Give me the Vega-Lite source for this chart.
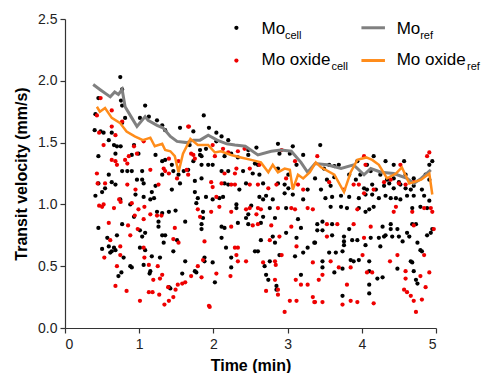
{
"$schema": "https://vega.github.io/schema/vega-lite/v6.json",
"width": 371, "height": 309,
"autosize": "none",
"padding": {"left": 65, "top": 19, "right": 47, "bottom": 45},
"config": {"view": {"stroke": null}, "font": "Liberation Sans",
 "axis": {"grid": false, "domainColor": "#333", "tickColor": "#333", "domainWidth": 1.2, "tickWidth": 1.2, "tickSize": 5, "labelColor": "#222", "labelFont": "Liberation Sans", "labelFontSize": 14, "titleFont": "Liberation Sans", "titleFontSize": 16, "titleFontWeight": "bold", "titleColor": "#000"}},
"datasets": {
"mo": [
{"t":0.745,"v":2.03},{"t":0.45,"v":1.86},{"t":0.77,"v":1.93},{"t":1.08,"v":1.80},{"t":0.755,"v":1.84},{"t":0.77,"v":1.80},{"t":0.41,"v":1.73},{"t":0.81,"v":1.70},{"t":0.77,"v":1.66},{"t":1.01,"v":1.70},{"t":1.13,"v":1.71},{"t":1.24,"v":1.68},{"t":1.31,"v":1.64},{"t":1.35,"v":1.60},{"t":1.55,"v":1.62},{"t":0.40,"v":1.60},{"t":0.48,"v":1.59},{"t":0.52,"v":1.58},{"t":0.63,"v":1.58},{"t":0.59,"v":1.52},{"t":0.66,"v":1.48},{"t":0.70,"v":1.47},{"t":0.75,"v":1.47},{"t":0.68,"v":1.41},{"t":0.45,"v":1.39},{"t":0.93,"v":1.48},{"t":0.99,"v":1.41},{"t":0.90,"v":1.40},{"t":1.22,"v":1.40},{"t":1.31,"v":1.35},{"t":1.35,"v":1.36},{"t":1.44,"v":1.32},{"t":0.77,"v":1.27},{"t":0.84,"v":1.27},{"t":0.90,"v":1.27},{"t":1.04,"v":1.27},{"t":1.31,"v":1.24},{"t":1.46,"v":1.27},{"t":1.53,"v":1.24},{"t":1.60,"v":1.27},{"t":0.59,"v":1.24},{"t":0.63,"v":1.18},{"t":0.68,"v":1.16},{"t":0.54,"v":1.13},{"t":1.04,"v":1.20},{"t":1.06,"v":1.17},{"t":1.22,"v":1.15},{"t":1.17,"v":1.10},{"t":1.44,"v":1.12},{"t":1.55,"v":1.17},{"t":0.97,"v":1.20},{"t":0.45,"v":1.17},{"t":0.50,"v":1.10},
{"t":0.41,"v":1.07},{"t":0.745,"v":1.04},{"t":0.95,"v":1.08},{"t":1.06,"v":1.06},{"t":1.15,"v":1.04},{"t":1.20,"v":1.05},{"t":0.88,"v":1.00},{"t":0.93,"v":0.90},{"t":1.24,"v":0.94},{"t":1.31,"v":0.93},{"t":1.40,"v":0.94},{"t":1.49,"v":0.95},{"t":1.26,"v":0.86},{"t":1.26,"v":0.82},{"t":1.62,"v":0.86},{"t":0.45,"v":0.81},{"t":0.77,"v":0.84},{"t":1.01,"v":0.79},{"t":1.08,"v":0.77},{"t":1.04,"v":0.74},{"t":1.31,"v":0.75},{"t":1.35,"v":0.75},{"t":0.70,"v":0.75},{"t":0.57,"v":0.73},{"t":1.51,"v":0.71},{"t":1.33,"v":0.69},{"t":0.59,"v":0.66},{"t":0.66,"v":0.65},{"t":0.50,"v":0.64},{"t":0.63,"v":0.62},{"t":0.68,"v":0.63},{"t":0.61,"v":0.61},{"t":0.79,"v":0.57},{"t":1.01,"v":0.65},{"t":1.08,"v":0.63},{"t":1.17,"v":0.58},{"t":1.28,"v":0.57},{"t":1.46,"v":0.62},{"t":1.62,"v":0.54},{"t":0.88,"v":0.50},{"t":0.90,"v":0.49},{"t":1.06,"v":0.51},{"t":1.15,"v":0.46},{"t":1.14,"v":0.44},{"t":0.76,"v":0.45},{"t":0.72,"v":0.42},{"t":1.58,"v":0.44},{"t":1.42,"v":0.32},{"t":1.40,"v":0.33},
{"t":1.87,"v":1.72},{"t":1.94,"v":1.62},{"t":1.73,"v":1.59},{"t":2.04,"v":1.58},{"t":2.11,"v":1.55},{"t":2.20,"v":1.52},{"t":2.04,"v":1.51},{"t":2.87,"v":1.49},{"t":3.07,"v":1.47},{"t":3.21,"v":1.40},{"t":2.58,"v":1.46},{"t":2.47,"v":1.44},{"t":1.68,"v":1.48},{"t":1.82,"v":1.44},{"t":1.90,"v":1.45},{"t":1.73,"v":1.35},{"t":1.82,"v":1.40},{"t":1.84,"v":1.39},{"t":2.15,"v":1.39},{"t":2.24,"v":1.41},{"t":2.33,"v":1.38},{"t":2.47,"v":1.40},{"t":2.56,"v":1.33},{"t":2.60,"v":1.32},{"t":2.89,"v":1.41},{"t":3.03,"v":1.41},{"t":3.12,"v":1.32},{"t":3.01,"v":1.24},{"t":2.87,"v":1.29},{"t":1.84,"v":1.32},{"t":1.93,"v":1.32},{"t":1.99,"v":1.32},{"t":2.11,"v":1.27},{"t":2.20,"v":1.27},{"t":2.40,"v":1.27},{"t":2.53,"v":1.25},{"t":2.62,"v":1.24},{"t":1.66,"v":1.28},{"t":1.75,"v":1.19},{"t":1.84,"v":1.21},{"t":2.15,"v":1.17},{"t":2.20,"v":1.16},{"t":2.44,"v":1.17},{"t":2.67,"v":1.17},{"t":2.87,"v":1.17},{"t":2.96,"v":1.16},{"t":3.01,"v":1.13},{"t":3.27,"v":1.12},{"t":2.35,"v":1.12},{"t":1.75,"v":1.10},
{"t":1.79,"v":1.05},{"t":1.77,"v":1.01},{"t":1.90,"v":1.06},{"t":2.08,"v":1.05},{"t":2.13,"v":1.06},{"t":1.99,"v":1.04},{"t":1.86,"v":0.94},{"t":1.86,"v":0.89},{"t":1.84,"v":0.84},{"t":1.84,"v":0.80},{"t":2.11,"v":0.82},{"t":2.15,"v":0.81},{"t":2.11,"v":0.73},{"t":2.31,"v":1.00},{"t":2.31,"v":0.97},{"t":2.44,"v":0.89},{"t":2.47,"v":0.92},{"t":2.33,"v":0.85},{"t":2.51,"v":0.99},{"t":2.62,"v":1.06},{"t":2.67,"v":1.04},{"t":2.71,"v":1.07},{"t":2.80,"v":1.04},{"t":2.76,"v":0.97},{"t":2.83,"v":0.89},{"t":2.67,"v":0.90},{"t":2.64,"v":0.85},{"t":2.47,"v":0.84},{"t":2.96,"v":1.09},{"t":3.07,"v":1.08},{"t":3.21,"v":1.04},{"t":2.98,"v":0.97},{"t":3.14,"v":0.88},{"t":3.18,"v":0.81},{"t":3.12,"v":0.73},{"t":2.98,"v":0.77},{"t":2.80,"v":0.74},{"t":2.83,"v":0.69},{"t":2.64,"v":0.71},{"t":3.36,"v":0.69},{"t":3.27,"v":0.65},{"t":3.21,"v":0.61},{"t":3.10,"v":0.58},{"t":2.89,"v":0.59},{"t":2.56,"v":0.62},{"t":2.60,"v":0.62},{"t":2.17,"v":0.65},{"t":2.24,"v":0.57},{"t":1.88,"v":0.57},{"t":1.88,"v":0.54},{"t":1.99,"v":0.53},{"t":2.76,"v":0.54},{"t":2.69,"v":0.50},{"t":2.71,"v":0.43},{"t":2.74,"v":0.39},{"t":2.85,"v":0.34},{"t":2.85,"v":0.31},{"t":1.75,"v":0.46},{"t":1.77,"v":0.45},{"t":2.02,"v":0.37},{"t":3.18,"v":0.43},{"t":2.24,"v":0.49},
{"t":3.44,"v":1.48},{"t":4.16,"v":1.39},{"t":4.32,"v":1.35},{"t":4.43,"v":1.32},{"t":4.57,"v":1.35},{"t":4.91,"v":1.32},{"t":4.95,"v":1.35},{"t":3.49,"v":1.29},{"t":3.56,"v":1.32},{"t":3.63,"v":1.31},{"t":3.69,"v":1.32},{"t":3.94,"v":1.35},{"t":4.07,"v":1.32},{"t":4.12,"v":1.27},{"t":3.83,"v":1.24},{"t":3.37,"v":1.21},{"t":3.53,"v":1.20},{"t":3.63,"v":1.22},{"t":3.98,"v":1.24},{"t":3.92,"v":1.20},{"t":4.25,"v":1.24},{"t":4.34,"v":1.20},{"t":4.43,"v":1.21},{"t":4.50,"v":1.18},{"t":4.59,"v":1.24},{"t":4.70,"v":1.21},{"t":4.86,"v":1.24},{"t":4.91,"v":1.20},{"t":3.45,"v":1.12},{"t":3.58,"v":1.15},{"t":4.03,"v":1.13},{"t":4.07,"v":1.12},{"t":4.14,"v":1.16},{"t":4.19,"v":1.12},{"t":4.30,"v":1.15},{"t":4.37,"v":1.17},{"t":4.43,"v":1.13},{"t":4.52,"v":1.16},{"t":4.59,"v":1.13},{"t":4.66,"v":1.12},{"t":4.70,"v":1.15},{"t":4.81,"v":1.12},
{"t":3.51,"v":1.05},{"t":3.60,"v":1.06},{"t":3.72,"v":1.07},{"t":3.83,"v":1.06},{"t":3.96,"v":1.05},{"t":4.05,"v":1.08},{"t":4.14,"v":1.08},{"t":4.23,"v":1.05},{"t":4.32,"v":1.07},{"t":4.39,"v":1.05},{"t":4.46,"v":1.05},{"t":4.52,"v":1.04},{"t":4.61,"v":1.07},{"t":4.70,"v":1.07},{"t":4.84,"v":1.07},{"t":4.91,"v":1.03},{"t":3.58,"v":0.98},{"t":3.72,"v":0.98},{"t":3.80,"v":0.97},{"t":3.96,"v":0.97},{"t":4.05,"v":0.94},{"t":4.10,"v":0.96},{"t":4.16,"v":0.98},{"t":4.68,"v":0.97},{"t":4.79,"v":0.98},{"t":4.88,"v":0.97},{"t":4.68,"v":0.84},{"t":4.73,"v":0.84},{"t":3.40,"v":0.84},{"t":3.47,"v":0.86},{"t":3.60,"v":0.84},{"t":3.83,"v":0.80},{"t":3.40,"v":0.79},{"t":3.47,"v":0.79},{"t":4.28,"v":0.82},{"t":4.39,"v":0.84},{"t":4.39,"v":0.80},{"t":4.48,"v":0.80},{"t":3.60,"v":0.75},{"t":3.76,"v":0.74},{"t":3.76,"v":0.70},{"t":3.76,"v":0.67},{"t":3.87,"v":0.71},{"t":3.94,"v":0.71},{"t":4.05,"v":0.67},{"t":4.12,"v":0.73},{"t":4.23,"v":0.73},{"t":4.30,"v":0.74},{"t":4.32,"v":0.75},{"t":4.41,"v":0.74},{"t":4.50,"v":0.74},{"t":4.55,"v":0.70},{"t":4.61,"v":0.77},{"t":4.64,"v":0.74},{"t":4.75,"v":0.69},{"t":4.79,"v":0.63},{"t":4.81,"v":0.62},{"t":4.88,"v":0.75},{"t":4.93,"v":0.77},{"t":4.95,"v":0.80},{"t":3.37,"v":0.69},{"t":4.25,"v":0.66},{"t":3.56,"v":0.61},{"t":3.65,"v":0.61},{"t":3.74,"v":0.62},{"t":3.85,"v":0.55},{"t":3.89,"v":0.54},{"t":3.96,"v":0.55},{"t":4.10,"v":0.54},{"t":3.47,"v":0.54},{"t":3.47,"v":0.49},{"t":3.74,"v":0.48},{"t":3.63,"v":0.45},{"t":4.10,"v":0.46},{"t":4.66,"v":0.54},{"t":4.68,"v":0.53},{"t":4.48,"v":0.48},{"t":4.70,"v":0.46},{"t":4.73,"v":0.39},{"t":4.75,"v":0.36},{"t":4.21,"v":0.40},{"t":4.28,"v":0.41},{"t":4.10,"v":0.35},{"t":4.10,"v":0.28},{"t":3.74,"v":0.26}
],
"mox": [
{"t":0.48,"v":1.86},{"t":0.63,"v":1.76},{"t":0.43,"v":1.72},{"t":0.77,"v":1.67},{"t":0.63,"v":1.63},{"t":0.46,"v":1.58},{"t":1.67,"v":1.63},{"t":0.68,"v":1.56},{"t":0.52,"v":1.48},{"t":0.93,"v":1.47},{"t":1.06,"v":1.51},{"t":0.97,"v":1.41},{"t":0.86,"v":1.39},{"t":0.63,"v":1.36},{"t":0.68,"v":1.35},{"t":0.81,"v":1.36},{"t":0.84,"v":1.33},{"t":1.40,"v":1.37},{"t":1.53,"v":1.35},{"t":0.70,"v":1.32},{"t":0.43,"v":1.25},{"t":1.15,"v":1.28},{"t":1.33,"v":1.29},{"t":1.35,"v":1.27},{"t":1.40,"v":1.25},{"t":1.64,"v":1.28},{"t":0.54,"v":1.17},{"t":0.84,"v":1.16},{"t":1.26,"v":1.16},{"t":1.51,"v":1.21},{"t":0.95,"v":1.12},{"t":0.44,"v":1.17},
{"t":0.50,"v":0.98},{"t":0.52,"v":1.00},{"t":0.73,"v":1.04},{"t":0.75,"v":1.02},{"t":0.66,"v":0.97},{"t":0.90,"v":1.01},{"t":0.99,"v":0.96},{"t":1.07,"v":0.98},{"t":0.94,"v":0.91},{"t":1.06,"v":0.88},{"t":1.15,"v":0.92},{"t":1.24,"v":0.91},{"t":1.30,"v":0.91},{"t":0.59,"v":0.85},{"t":0.85,"v":0.83},{"t":0.98,"v":0.80},{"t":1.48,"v":0.81},{"t":0.88,"v":0.75},{"t":0.61,"v":0.71},{"t":1.46,"v":0.72},{"t":1.53,"v":0.69},{"t":0.745,"v":0.66},{"t":1.06,"v":0.65},{"t":0.53,"v":0.57},{"t":0.745,"v":0.59},{"t":1.07,"v":0.57},{"t":0.70,"v":0.50},{"t":1.13,"v":0.51},{"t":1.25,"v":0.50},{"t":1.31,"v":0.43},{"t":1.19,"v":0.39},{"t":1.28,"v":0.40},{"t":0.68,"v":0.34},{"t":0.83,"v":0.30},{"t":1.13,"v":0.29},{"t":1.18,"v":0.29},{"t":1.27,"v":0.27},{"t":1.39,"v":0.33},{"t":1.49,"v":0.31},{"t":1.52,"v":0.35},{"t":1.58,"v":0.36},{"t":1.62,"v":0.37},{"t":1.46,"v":0.25},{"t":1.40,"v":0.22},{"t":1.34,"v":0.19},{"t":1.01,"v":0.22},{"t":0.46,"v":0.99},
{"t":1.66,"v":1.63},{"t":1.70,"v":1.41},{"t":1.73,"v":1.40},{"t":1.99,"v":1.48},{"t":2.13,"v":1.45},{"t":2.42,"v":1.45},{"t":2.33,"v":1.43},{"t":2.92,"v":1.44},{"t":3.10,"v":1.35},{"t":1.75,"v":1.37},{"t":2.02,"v":1.39},{"t":2.20,"v":1.42},{"t":2.31,"v":1.29},{"t":2.29,"v":1.25},{"t":2.49,"v":1.29},{"t":2.62,"v":1.32},{"t":2.98,"v":1.21},{"t":1.66,"v":1.24},{"t":2.15,"v":1.25},{"t":1.97,"v":1.18},{"t":1.99,"v":1.14},{"t":2.11,"v":1.17},{"t":2.24,"v":1.16},{"t":2.29,"v":1.16},{"t":2.49,"v":1.16},{"t":2.60,"v":1.16},{"t":2.74,"v":1.13},{"t":2.85,"v":1.16},{"t":3.14,"v":1.16},{"t":3.21,"v":1.12},
{"t":2.04,"v":1.06},{"t":2.08,"v":0.98},{"t":1.97,"v":0.94},{"t":1.79,"v":0.96},{"t":1.82,"v":0.90},{"t":2.24,"v":0.94},{"t":2.44,"v":0.96},{"t":2.49,"v":0.97},{"t":2.60,"v":0.97},{"t":2.64,"v":0.96},{"t":2.87,"v":0.97},{"t":3.05,"v":0.97},{"t":3.10,"v":0.96},{"t":3.27,"v":0.97},{"t":3.34,"v":0.96},{"t":2.58,"v":0.92},{"t":2.60,"v":0.84},{"t":2.53,"v":0.83},{"t":2.24,"v":0.82},{"t":2.78,"v":0.83},{"t":3.05,"v":0.82},{"t":2.89,"v":0.74},{"t":2.76,"v":0.71},{"t":1.88,"v":0.70},{"t":3.12,"v":0.66},{"t":2.29,"v":0.65},{"t":2.33,"v":0.65},{"t":2.92,"v":0.59},{"t":2.31,"v":0.59},{"t":2.33,"v":0.54},{"t":2.44,"v":0.54},{"t":2.67,"v":0.53},{"t":2.83,"v":0.54},{"t":2.84,"v":0.51},{"t":3.34,"v":0.53},{"t":1.86,"v":0.55},{"t":1.79,"v":0.50},{"t":1.70,"v":0.42},{"t":1.84,"v":0.41},{"t":2.04,"v":0.44},{"t":2.23,"v":0.42},{"t":2.83,"v":0.39},{"t":2.87,"v":0.31},{"t":2.87,"v":0.27},{"t":2.71,"v":0.30},{"t":3.11,"v":0.39},{"t":3.18,"v":0.35},{"t":3.27,"v":0.35},{"t":3.03,"v":0.22},{"t":3.12,"v":0.22},{"t":3.34,"v":0.25},{"t":3.36,"v":0.21},{"t":2.96,"v":0.13},{"t":1.94,"v":0.18},{"t":1.95,"v":0.17},
{"t":3.40,"v":1.39},{"t":4.03,"v":1.39},{"t":4.05,"v":1.32},{"t":4.52,"v":1.32},{"t":4.91,"v":1.42},{"t":4.88,"v":1.39},{"t":3.89,"v":1.16},{"t":3.96,"v":1.16},{"t":3.76,"v":1.12},{"t":3.56,"v":1.18},{"t":4.30,"v":1.18},{"t":4.39,"v":1.20},{"t":4.50,"v":1.17},{"t":4.59,"v":1.16},{"t":4.70,"v":1.18},{"t":4.16,"v":1.12},
{"t":4.03,"v":1.09},{"t":3.94,"v":0.96},{"t":4.46,"v":0.98},{"t":4.43,"v":0.94},{"t":4.68,"v":0.94},{"t":4.84,"v":0.97},{"t":4.93,"v":0.97},{"t":4.95,"v":0.94},{"t":3.53,"v":0.84},{"t":3.67,"v":0.84},{"t":3.89,"v":0.84},{"t":4.12,"v":0.82},{"t":4.70,"v":0.83},{"t":4.97,"v":0.80},{"t":3.53,"v":0.74},{"t":4.03,"v":0.73},{"t":4.01,"v":0.59},{"t":4.48,"v":0.59},{"t":4.84,"v":0.59},{"t":3.58,"v":0.54},{"t":4.38,"v":0.54},{"t":3.69,"v":0.49},{"t":3.85,"v":0.49},{"t":4.07,"v":0.45},{"t":4.14,"v":0.45},{"t":4.59,"v":0.46},{"t":4.79,"v":0.42},{"t":4.91,"v":0.45},{"t":3.47,"v":0.43},{"t":3.42,"v":0.39},{"t":4.59,"v":0.40},{"t":4.86,"v":0.33},{"t":4.57,"v":0.31},{"t":4.61,"v":0.29},{"t":4.66,"v":0.26},{"t":4.81,"v":0.23},{"t":4.70,"v":0.22},{"t":4.73,"v":0.13},{"t":3.80,"v":0.35},{"t":3.85,"v":0.22},{"t":3.74,"v":0.19},{"t":3.94,"v":0.21},{"t":4.16,"v":0.20},{"t":3.37,"v":0.21},{"t":3.47,"v":0.21}
],
"moref": [
{"t":0.38,"v":1.97},{"t":0.47,"v":1.93},{"t":0.61,"v":1.87},{"t":0.67,"v":1.91},{"t":0.72,"v":1.89},{"t":0.77,"v":1.93},{"t":0.81,"v":1.79},{"t":0.90,"v":1.70},{"t":0.97,"v":1.63},{"t":1.08,"v":1.71},{"t":1.12,"v":1.68},{"t":1.24,"v":1.64},{"t":1.32,"v":1.62},{"t":1.42,"v":1.55},{"t":1.51,"v":1.51},{"t":1.64,"v":1.50},{"t":1.73,"v":1.52},{"t":1.82,"v":1.52},{"t":1.93,"v":1.56},{"t":2.05,"v":1.52},{"t":2.18,"v":1.49},{"t":2.29,"v":1.48},{"t":2.43,"v":1.47},{"t":2.60,"v":1.40},{"t":2.78,"v":1.43},{"t":2.91,"v":1.44},{"t":3.05,"v":1.43},{"t":3.18,"v":1.34},{"t":3.27,"v":1.26},{"t":3.37,"v":1.33},{"t":3.53,"v":1.32},{"t":3.72,"v":1.29},{"t":3.89,"v":1.32},{"t":4.03,"v":1.24},{"t":4.12,"v":1.29},{"t":4.26,"v":1.26},{"t":4.43,"v":1.25},{"t":4.61,"v":1.21},{"t":4.70,"v":1.17},{"t":4.80,"v":1.21},{"t":4.93,"v":1.28}
],
"moxref": [
{"t":0.43,"v":1.79},{"t":0.47,"v":1.75},{"t":0.54,"v":1.78},{"t":0.63,"v":1.70},{"t":0.74,"v":1.66},{"t":0.83,"v":1.59},{"t":0.94,"v":1.55},{"t":1.05,"v":1.52},{"t":1.15,"v":1.54},{"t":1.21,"v":1.47},{"t":1.31,"v":1.49},{"t":1.35,"v":1.44},{"t":1.42,"v":1.43},{"t":1.48,"v":1.39},{"t":1.53,"v":1.26},{"t":1.59,"v":1.41},{"t":1.69,"v":1.53},{"t":1.79,"v":1.48},{"t":1.93,"v":1.48},{"t":2.02,"v":1.42},{"t":2.10,"v":1.43},{"t":2.24,"v":1.40},{"t":2.37,"v":1.38},{"t":2.51,"v":1.36},{"t":2.64,"v":1.34},{"t":2.74,"v":1.26},{"t":2.80,"v":1.32},{"t":2.87,"v":1.26},{"t":2.96,"v":1.29},{"t":3.03,"v":1.28},{"t":3.07,"v":1.12},{"t":3.14,"v":1.24},{"t":3.21,"v":1.21},{"t":3.30,"v":1.26},{"t":3.38,"v":1.34},{"t":3.45,"v":1.30},{"t":3.63,"v":1.24},{"t":3.76,"v":1.10},{"t":3.85,"v":1.26},{"t":3.94,"v":1.36},{"t":4.06,"v":1.38},{"t":4.14,"v":1.36},{"t":4.23,"v":1.32},{"t":4.34,"v":1.21},{"t":4.46,"v":1.25},{"t":4.54,"v":1.30},{"t":4.64,"v":1.17},{"t":4.70,"v":1.18},{"t":4.80,"v":1.20},{"t":4.91,"v":1.25},{"t":4.95,"v":1.08}
]
},
"layer": [
{"data": {"name": "mo"}, "mark": {"type": "circle", "size": 18, "opacity": 1, "color": "#000000"},
 "encoding": {
  "x": {"field": "t", "type": "quantitative", "scale": {"domain": [0, 5], "nice": false}, "axis": {"title": "Time (min)", "values": [0,1,2,3,4,5], "format": "d", "labelPadding": 4, "titlePadding": 6}},
  "y": {"field": "v", "type": "quantitative", "scale": {"domain": [0, 2.5], "nice": false}, "axis": {"title": "Transit velocity (mm/s)", "values": [0,0.5,1,1.5,2,2.5], "format": ".1f", "labelPadding": 3, "titlePadding": 8}}}},
{"data": {"name": "mox"}, "mark": {"type": "circle", "size": 18, "opacity": 1, "color": "#ee0000"},
 "encoding": {"x": {"field": "t", "type": "quantitative"}, "y": {"field": "v", "type": "quantitative"}}},
{"data": {"name": "moref"}, "mark": {"type": "line", "color": "#808080", "strokeWidth": 3},
 "encoding": {"x": {"field": "t", "type": "quantitative"}, "y": {"field": "v", "type": "quantitative"}}},
{"data": {"name": "moxref"}, "mark": {"type": "line", "color": "#ff8c1a", "strokeWidth": 2.5},
 "encoding": {"x": {"field": "t", "type": "quantitative"}, "y": {"field": "v", "type": "quantitative"}}},
{"data": {"values": [{}]}, "mark": {"type": "circle", "size": 18, "opacity": 1, "color": "#000000"},
 "encoding": {"x": {"datum": 2.31, "type": "quantitative"}, "y": {"datum": 2.429, "type": "quantitative"}}},
{"data": {"values": [{}]}, "mark": {"type": "circle", "size": 18, "opacity": 1, "color": "#ee0000"},
 "encoding": {"x": {"datum": 2.31, "type": "quantitative"}, "y": {"datum": 2.164, "type": "quantitative"}}},
{"data": {"values": [{}]}, "mark": {"type": "rule", "color": "#808080", "strokeWidth": 3},
 "encoding": {"x": {"datum": 3.995, "type": "quantitative"}, "x2": {"datum": 4.312}, "y": {"datum": 2.429, "type": "quantitative"}}},
{"data": {"values": [{}]}, "mark": {"type": "rule", "color": "#ff8c1a", "strokeWidth": 3},
 "encoding": {"x": {"datum": 3.995, "type": "quantitative"}, "x2": {"datum": 4.312}, "y": {"datum": 2.164, "type": "quantitative"}}},
{"data": {"values": [{}]}, "mark": {"type": "text", "align": "left", "baseline": "alphabetic", "fontSize": 17, "font": "Liberation Sans", "color": "#000"},
 "encoding": {"x": {"datum": 2.648, "type": "quantitative"}, "y": {"datum": 2.382, "type": "quantitative"}, "text": {"value": "Mo"}}},
{"data": {"values": [{}]}, "mark": {"type": "text", "align": "left", "baseline": "alphabetic", "fontSize": 11, "font": "Liberation Sans", "color": "#000"},
 "encoding": {"x": {"datum": 2.965, "type": "quantitative"}, "y": {"datum": 2.342, "type": "quantitative"}, "text": {"value": "cell"}}},
{"data": {"values": [{}]}, "mark": {"type": "text", "align": "left", "baseline": "alphabetic", "fontSize": 17, "font": "Liberation Sans", "color": "#000"},
 "encoding": {"x": {"datum": 2.648, "type": "quantitative"}, "y": {"datum": 2.131, "type": "quantitative"}, "text": {"value": "Mo oxide"}}},
{"data": {"values": [{}]}, "mark": {"type": "text", "align": "left", "baseline": "alphabetic", "fontSize": 11, "font": "Liberation Sans", "color": "#000"},
 "encoding": {"x": {"datum": 3.59, "type": "quantitative"}, "y": {"datum": 2.091, "type": "quantitative"}, "text": {"value": "cell"}}},
{"data": {"values": [{}]}, "mark": {"type": "text", "align": "left", "baseline": "alphabetic", "fontSize": 17, "font": "Liberation Sans", "color": "#000"},
 "encoding": {"x": {"datum": 4.47, "type": "quantitative"}, "y": {"datum": 2.382, "type": "quantitative"}, "text": {"value": "Mo"}}},
{"data": {"values": [{}]}, "mark": {"type": "text", "align": "left", "baseline": "alphabetic", "fontSize": 11, "font": "Liberation Sans", "color": "#000"},
 "encoding": {"x": {"datum": 4.787, "type": "quantitative"}, "y": {"datum": 2.342, "type": "quantitative"}, "text": {"value": "ref"}}},
{"data": {"values": [{}]}, "mark": {"type": "text", "align": "left", "baseline": "alphabetic", "fontSize": 17, "font": "Liberation Sans", "color": "#000"},
 "encoding": {"x": {"datum": 4.47, "type": "quantitative"}, "y": {"datum": 2.131, "type": "quantitative"}, "text": {"value": "Mo oxide"}}},
{"data": {"values": [{}]}, "mark": {"type": "text", "align": "left", "baseline": "alphabetic", "fontSize": 11, "font": "Liberation Sans", "color": "#000"},
 "encoding": {"x": {"datum": 5.418, "type": "quantitative"}, "y": {"datum": 2.091, "type": "quantitative"}, "text": {"value": "ref"}}}
]
}
